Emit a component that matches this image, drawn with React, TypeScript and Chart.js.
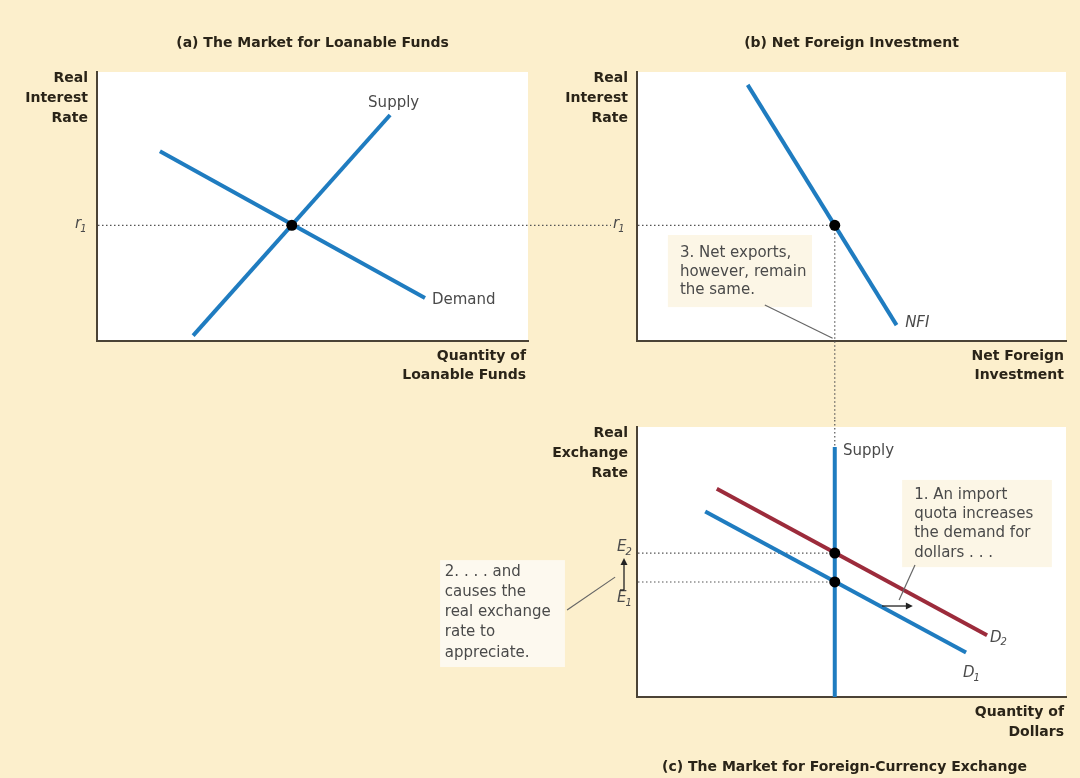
import React, { useEffect, useRef } from "react";
import { Chart, registerables } from "chart.js";
Chart.register(...registerables);

// ---------- data (abstract units 0..10 on every axis) ----------
// (a) loanable funds
const loanSupplyQ = [2.23, 6.8];
const loanSupplyR = [0.2, 8.4];
const loanDemandQ = [1.46, 7.61];
const loanDemandR = [7.05, 1.6];
const loanEqQ = [4.52];
const rate1 = [4.3];
// (b) net foreign investment
const nfiQ = [2.58, 6.05];
const nfiR = [9.52, 0.59];
const nfiEqQ = [4.61];
// (c) foreign-currency exchange
const fxSupplyQ = [4.61, 4.61];
const fxSupplyE = [0, 9.26];
const fxD1Q = [1.59, 7.67];
const fxD1E = [6.87, 1.65];
const fxD2Q = [1.86, 8.16];
const fxD2E = [7.71, 2.29];
const fxEqQ = [4.61, 4.61];
const fxEqE = [4.26, 5.33];

// ---------- styles ----------
const CREAM = "#fcefcc";
const BLUE = "#1f7cc0";
const RED = "#9c2b3b";
const AXIS = "#4b4336";
const INK = "#2a2418";
const GRAY = "#4a4a4a";
const FONT = "'DejaVu Sans', 'Liberation Sans', sans-serif";
const BOLD = `bold 14px ${FONT}`;
const REG = `15px ${FONT}`;
const ITAL = `italic 15px ${FONT}`;
const SUBF = `italic 10px ${FONT}`;

function pts(xs: number[], ys: number[]) {
  return xs.map((x, i) => ({ x, y: ys[i] }));
}
function lineDs(label: string, xs: number[], ys: number[], color: string) {
  return {
    label,
    data: pts(xs, ys),
    showLine: true,
    borderColor: color,
    backgroundColor: color,
    borderWidth: 4,
    pointRadius: 0,
    borderCapStyle: "butt",
    fill: false,
    order: 2,
  };
}
function dotDs(label: string, xs: number[], ys: number[]) {
  return {
    label,
    data: pts(xs, ys),
    showLine: false,
    pointRadius: 5.5,
    pointBackgroundColor: "#000",
    pointBorderColor: "#000",
    pointBorderWidth: 0,
    order: 1,
  };
}
function scaleOpts() {
  return {
    type: "linear",
    min: 0,
    max: 10,
    display: true,
    grid: { display: false, drawTicks: false },
    ticks: { display: false },
    border: { display: true, color: AXIS, width: 2 },
    title: { display: false },
  };
}

function whiteArea(chart: any) {
  const { ctx, chartArea: a } = chart;
  ctx.save();
  ctx.fillStyle = "#ffffff";
  ctx.fillRect(a.left, a.top, a.right - a.left, a.bottom - a.top);
  ctx.restore();
}
function dotted(ctx: any, x1: number, y1: number, x2: number, y2: number) {
  ctx.save();
  ctx.strokeStyle = "#555";
  ctx.lineWidth = 1.2;
  ctx.setLineDash([1.5, 2.5]);
  ctx.beginPath();
  ctx.moveTo(x1, y1);
  ctx.lineTo(x2, y2);
  ctx.stroke();
  ctx.restore();
}
function seg(ctx: any, x1: number, y1: number, x2: number, y2: number, color = "#666", w = 1.2) {
  ctx.save();
  ctx.strokeStyle = color;
  ctx.lineWidth = w;
  ctx.beginPath();
  ctx.moveTo(x1, y1);
  ctx.lineTo(x2, y2);
  ctx.stroke();
  ctx.restore();
}
function text(ctx: any, s: string, x: number, y: number, font: string, color: string, align = "left") {
  ctx.save();
  ctx.font = font;
  ctx.fillStyle = color;
  ctx.textAlign = align;
  ctx.textBaseline = "middle";
  ctx.fillText(s, x, y);
  ctx.restore();
}
function subLabel(ctx: any, main: string, sub: string, x: number, y: number, color = GRAY) {
  ctx.save();
  ctx.font = ITAL;
  ctx.fillStyle = color;
  ctx.textAlign = "left";
  ctx.textBaseline = "middle";
  ctx.fillText(main, x, y);
  const w = ctx.measureText(main).width;
  ctx.font = SUBF;
  ctx.fillText(sub, x + w - 1, y + 5);
  ctx.restore();
}
function axisTitles(chart: any, yLines: string[], xLines: string[], xOff: number[]) {
  const { ctx, chartArea: a } = chart;
  yLines.forEach((s, i) => text(ctx, s, a.left - 9, a.top + 6 + i * 20, BOLD, INK, "right"));
  xLines.forEach((s, i) => text(ctx, s, a.right - 2, a.bottom + xOff[i], BOLD, INK, "right"));
}
function box(ctx: any, x1: number, y1: number, x2: number, y2: number, fill: string) {
  ctx.save();
  ctx.fillStyle = fill;
  ctx.fillRect(x1, y1, x2 - x1, y2 - y1);
  ctx.restore();
}

// ---------- plugins ----------
const pluginA = {
  id: "panelA",
  beforeDraw: whiteArea,
  beforeDatasetsDraw(chart: any) {
    const { ctx, scales, chartArea: a } = chart;
    const yr = scales.y.getPixelForValue(rate1[0]);
    dotted(ctx, a.left + 1, yr, chart.width, yr);
  },
  afterDraw(chart: any) {
    const { ctx, scales, chartArea: a } = chart;
    const { x, y } = scales;
    text(ctx, "(a) The Market for Loanable Funds", (a.left + a.right) / 2, a.top - 29, BOLD, INK, "center");
    axisTitles(chart, ["Real", "Interest", "Rate"], ["Quantity of", "Loanable Funds"], [15, 34]);
    subLabel(ctx, "r", "1", a.left - 22, y.getPixelForValue(rate1[0]) - 1);
    text(ctx, "Supply", x.getPixelForValue(6.29), y.getPixelForValue(8.85), REG, GRAY);
    text(ctx, "Demand", x.getPixelForValue(7.77), y.getPixelForValue(1.52), REG, GRAY);
  },
};

const pluginB = {
  id: "panelB",
  beforeDraw: whiteArea,
  beforeDatasetsDraw(chart: any) {
    const { ctx, scales, chartArea: a } = chart;
    const { x, y } = scales;
    const yr = y.getPixelForValue(rate1[0]);
    const xq = x.getPixelForValue(nfiEqQ[0]);
    dotted(ctx, a.left + 1, yr, xq, yr);
    dotted(ctx, xq, yr, xq, chart.height);
  },
  afterDraw(chart: any) {
    const { ctx, scales, chartArea: a } = chart;
    const { x, y } = scales;
    text(ctx, "(b) Net Foreign Investment", (a.left + a.right) / 2, a.top - 29, BOLD, INK, "center");
    axisTitles(chart, ["Real", "Interest", "Rate"], ["Net Foreign", "Investment"], [15, 34]);
    subLabel(ctx, "r", "1", a.left - 24, y.getPixelForValue(rate1[0]) - 1);
    subLabel(ctx, "NFI", "", x.getPixelForValue(6.25), y.getPixelForValue(0.67));
    // note 3
    box(ctx, x.getPixelForValue(0.72), y.getPixelForValue(3.94), x.getPixelForValue(4.08), y.getPixelForValue(1.26), "#fcf6e6");
    ["3. Net exports,", "however, remain", "the same."].forEach((s, i) =>
      text(ctx, s, x.getPixelForValue(1.0), y.getPixelForValue(3.27) + i * 18.7, REG, GRAY)
    );
    seg(ctx, x.getPixelForValue(2.98), y.getPixelForValue(1.34), x.getPixelForValue(nfiEqQ[0] - 0.05), y.getPixelForValue(0.1));
  },
};

const pluginC = {
  id: "panelC",
  beforeDraw: whiteArea,
  beforeDatasetsDraw(chart: any) {
    const { ctx, scales, chartArea: a } = chart;
    const { x, y } = scales;
    const xs = x.getPixelForValue(fxSupplyQ[0]);
    dotted(ctx, xs, 0, xs, y.getPixelForValue(fxSupplyE[1]));
    fxEqE.forEach((e) => {
      const py = y.getPixelForValue(e);
      dotted(ctx, a.left + 1, py, x.getPixelForValue(fxEqQ[0]), py);
    });
  },
  afterDraw(chart: any) {
    const { ctx, scales, chartArea: a } = chart;
    const { x, y } = scales;
    text(ctx, "(c) The Market for Foreign-Currency Exchange", (a.left + a.right) / 2 - 7, a.bottom + 70, BOLD, INK, "center");
    axisTitles(chart, ["Real", "Exchange", "Rate"], ["Quantity of", "Dollars"], [15, 35]);
    text(ctx, "Supply", x.getPixelForValue(4.8), y.getPixelForValue(9.11), REG, GRAY);
    subLabel(ctx, "D", "2", x.getPixelForValue(8.23), y.getPixelForValue(2.19));
    subLabel(ctx, "D", "1", x.getPixelForValue(7.6), y.getPixelForValue(0.89));
    const e1 = y.getPixelForValue(fxEqE[0]);
    const e2 = y.getPixelForValue(fxEqE[1]);
    subLabel(ctx, "E", "2", a.left - 20, e2 - 6);
    subLabel(ctx, "E", "1", a.left - 20, e1 + 16);
    // up arrow E1 -> E2
    const ax = a.left - 13;
    seg(ctx, ax - 4, e1 + 8, ax, e1 + 8, "#222", 1.3);
    seg(ctx, ax, e1 + 8, ax, e2 + 10, "#222", 1.3);
    ctx.save();
    ctx.fillStyle = "#222";
    ctx.beginPath();
    ctx.moveTo(ax, e2 + 5);
    ctx.lineTo(ax - 3.5, e2 + 12);
    ctx.lineTo(ax + 3.5, e2 + 12);
    ctx.closePath();
    ctx.fill();
    ctx.restore();
    // note 1
    box(ctx, x.getPixelForValue(6.18), y.getPixelForValue(8.04), x.getPixelForValue(9.67), y.getPixelForValue(4.81), "#fcf6e6");
    ["1. An import", "quota increases", "the demand for", "dollars . . ."].forEach((s, i) =>
      text(ctx, s, x.getPixelForValue(6.46), y.getPixelForValue(7.48) + i * 19.2, REG, GRAY)
    );
    seg(ctx, x.getPixelForValue(6.48), y.getPixelForValue(4.89), x.getPixelForValue(6.11), y.getPixelForValue(3.59));
    // shift arrow
    const sy = y.getPixelForValue(3.37);
    const sx1 = x.getPixelForValue(5.71);
    const sx2 = x.getPixelForValue(6.43);
    seg(ctx, sx1, sy, sx2 - 5, sy, "#222", 1.3);
    ctx.save();
    ctx.fillStyle = "#222";
    ctx.beginPath();
    ctx.moveTo(sx2, sy);
    ctx.lineTo(sx2 - 7, sy - 3.5);
    ctx.lineTo(sx2 - 7, sy + 3.5);
    ctx.closePath();
    ctx.fill();
    ctx.restore();
    // note 2
    box(ctx, x.getPixelForValue(-4.59), y.getPixelForValue(5.07), x.getPixelForValue(-1.68), y.getPixelForValue(1.11), "#fdf9ef");
    ["2. . . . and", "causes the", "real exchange", "rate to", "appreciate."].forEach((s, i) =>
      text(ctx, s, x.getPixelForValue(-4.48), y.getPixelForValue(4.63) + i * 20.2, REG, GRAY)
    );
    seg(ctx, x.getPixelForValue(-1.63), y.getPixelForValue(3.22), x.getPixelForValue(-0.51), y.getPixelForValue(4.44));
  },
};

function makeChart(canvas: HTMLCanvasElement, datasets: any[], padding: any, plugin: any) {
  return new Chart(canvas, {
    type: "scatter",
    data: { datasets },
    options: {
      animation: false,
      responsive: false,
      devicePixelRatio: 1,
      layout: { padding },
      plugins: { legend: { display: false }, tooltip: { enabled: false }, title: { display: false } },
      scales: { x: scaleOpts(), y: scaleOpts() },
      events: [],
    } as any,
    plugins: [plugin],
  } as any);
}

export default function App() {
  const refA = useRef<HTMLCanvasElement>(null);
  const refB = useRef<HTMLCanvasElement>(null);
  const refC = useRef<HTMLCanvasElement>(null);

  useEffect(() => {
    const charts: Chart[] = [];
    charts.push(
      makeChart(
        refA.current!,
        [
          lineDs("Supply", loanSupplyQ, loanSupplyR, BLUE),
          lineDs("Demand", loanDemandQ, loanDemandR, BLUE),
          dotDs("Equilibrium", loanEqQ, rate1),
        ],
        { left: 97, top: 72, right: 611 - 528, bottom: 400 - 341 },
        pluginA
      )
    );
    charts.push(
      makeChart(
        refB.current!,
        [lineDs("NFI", nfiQ, nfiR, BLUE), dotDs("Equilibrium", nfiEqQ, rate1)],
        { left: 637 - 540, top: 72, right: 1080 - 1066, bottom: 420 - 341 },
        pluginB
      )
    );
    charts.push(
      makeChart(
        refC.current!,
        [
          lineDs("Supply", fxSupplyQ, fxSupplyE, BLUE),
          lineDs("D2", fxD2Q, fxD2E, RED),
          lineDs("D1", fxD1Q, fxD1E, BLUE),
          dotDs("Equilibria", fxEqQ, fxEqE),
        ],
        { left: 637 - 420, top: 427 - 420, right: 1080 - 1066, bottom: 778 - 697 },
        pluginC
      )
    );
    return () => charts.forEach((c) => c.destroy());
  }, []);

  return (
    <div
      style={{
        position: "absolute",
        left: 0,
        top: 0,
        width: 1080,
        height: 778,
        background: CREAM,
        overflow: "hidden",
      }}
    >
      <canvas ref={refA} width={611} height={400} style={{ position: "absolute", left: 0, top: 0, width: 611, height: 400 }} />
      <canvas ref={refB} width={540} height={420} style={{ position: "absolute", left: 540, top: 0, width: 540, height: 420 }} />
      <canvas ref={refC} width={660} height={358} style={{ position: "absolute", left: 420, top: 420, width: 660, height: 358 }} />
    </div>
  );
}
